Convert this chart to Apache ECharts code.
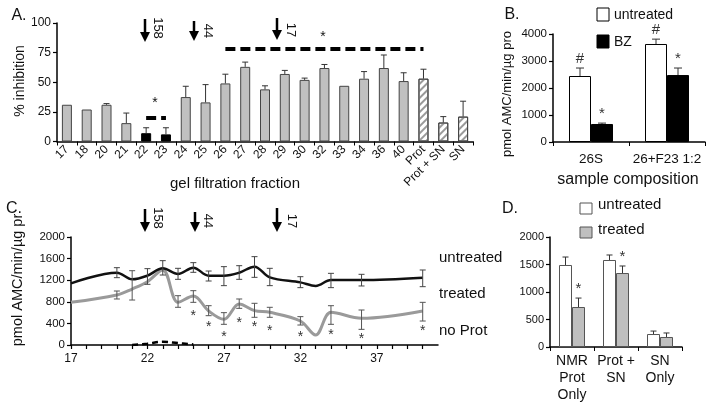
<!DOCTYPE html>
<html><head><meta charset="utf-8">
<script src="https://cdn.jsdelivr.net/npm/echarts@6/dist/echarts.min.js"></script>
<style>html,body{margin:0;padding:0;background:#fff}#c{width:711px;height:405px}</style>
</head><body><div id="c"></div>
<script>
// ---------- Panel A data ----------
const catsA = ['17','18','20','21','22','23','24','25','26','27','28','29','30','32','33','34','36','40','Prot','Prot + SN','SN'];
const valsA = [31,27,31,15.5,7,6,37.5,33,49,63,44,57,52,62,47,53,62,51,53,16,21];
const errTopA = [null,null,32,24,11.6,11.6,46.6,48,56.8,67,47,60,53.5,65,null,59,73,58,61,21,34];
const blackCatsA = ['22','23'];
const hatchCatsA = ['Prot','Prot + SN','SN'];
const ticksA = [0,25,50,75,100];
const sigShortA = {from:'22', to:'23', y:20};
const sigLongA = {from:'26', to:'Prot', y:78};

// ---------- Panel B data ----------
const catsB = ['26S','26+F23 1:2'];
const untreatedB = [2444,3630];
const untreatedErrB = [2740,3810];
const bzB = [667,2480];
const bzErrB = [700,2740];
const ticksB = [0,1000,2000,3000,4000];

// ---------- Panel C data ----------
const fracC = [17,20,21,22,23,24,25,26,27,28,29,30,32,33,34,36,40];
const untreatedC = [1142,1339,1216,1284,1420,1315,1432,1284,1284,1339,1451,1253,1160,1093,1204,1204,1247];
const untreatedLoC = [null,1247,null,1124,1296,1216,1346,1185,1099,1216,1253,1099,1062,null,1062,1093,1080];
const untreatedHiC = [null,1432,null,1414,1562,1420,1525,1370,1451,1469,1636,1420,1265,null,1327,1309,1389];
const treatedC = [790,926,1037,1173,1390,790,907,630,475,759,636,605,444,185,605,494,630];
const treatedLoC = [null,852,833,null,null,698,790,543,383,679,513,513,370,null,383,290,444];
const treatedHiC = [null,1000,1376,null,null,913,1006,728,599,852,772,698,525,null,728,648,790];
const noProtC = [null,null,0,25,60,35,10,null,null,null,null,null,null,null,null,null,null];
const starFracC = [25,26,27,28,29,30,32,34,36,40];
const starValC = [598,389,198,463,383,320,198,246,167,309];
const ticksCy = [0,400,800,1200,1600,2000];
const labelsCx = [17,22,27,32,37];

// ---------- Panel D data ----------
const catsD = ['NMR\nProt\nOnly','Prot +\nSN','SN\nOnly'];
const untreatedD = [1491,1582,236];
const untreatedErrD = [1636,1673,290];
const treatedD = [727,1345,182];
const treatedErrD = [890,1473,255];
const starD = ['*','*',''];
const ticksD = [0,500,1000,1500,2000];

// ---------- helpers ----------
const FF = '"Liberation Sans", Arial, sans-serif';
const TXT = '#111';
const axisLine = {show:true, lineStyle:{color:'#000', width:1.5}};
const tickOut = {show:true, length:4, inside:false, lineStyle:{color:'#000', width:1.2}};
const plain = v => String(v);

function barErr(gi, data, offset, capW, marks, markSize){
  return {
    type:'custom', xAxisIndex:gi, yAxisIndex:gi, z:5,
    data: data,
    renderItem: function(params, api){
      const top = api.value(2);
      const base = api.coord([api.value(0), api.value(1)]);
      const children = [];
      let ty = base[1];
      if (!isNaN(top)) {
        const t = api.coord([api.value(0), top]);
        const x = base[0] + offset;
        ty = t[1];
        children.push({type:'line', shape:{x1:x, y1:base[1], x2:x, y2:t[1]}, style:{stroke:'#333', lineWidth:1}});
        children.push({type:'line', shape:{x1:x-capW, y1:t[1], x2:x+capW, y2:t[1]}, style:{stroke:'#333', lineWidth:1}});
      }
      const m = marks ? marks[params.dataIndex] : '';
      if (m) {
        children.push({type:'text', x: base[0]+offset, y: ty-2,
          style:{text:m, font: markSize+'px '+FF, fill:'#333', align:'center', verticalAlign:'bottom'}});
      }
      return {type:'group', children};
    }
  };
}
function rangeErr(gi, xs, lo, hi, color){
  const data = [];
  xs.forEach((x,i)=>{ if (lo[i]!=null) data.push([x, lo[i], hi[i]]); });
  return {
    type:'custom', xAxisIndex:gi, yAxisIndex:gi, z:6, data,
    renderItem: function(params, api){
      const a = api.coord([api.value(0), api.value(1)]);
      const b = api.coord([api.value(0), api.value(2)]);
      const s = {stroke:color, lineWidth:1};
      return {type:'group', children:[
        {type:'line', shape:{x1:a[0], y1:a[1], x2:b[0], y2:b[1]}, style:s},
        {type:'line', shape:{x1:a[0]-3, y1:a[1], x2:a[0]+3, y2:a[1]}, style:s},
        {type:'line', shape:{x1:b[0]-3, y1:b[1], x2:b[0]+3, y2:b[1]}, style:s}
      ]};
    }
  };
}
function arrow(x, y1, y2){
  return {type:'group', children:[
    {type:'line', shape:{x1:x, y1:y1, x2:x, y2:y2-6}, style:{stroke:'#000', lineWidth:2.5}},
    {type:'polygon', shape:{points:[[x-5,y2-10],[x+5,y2-10],[x,y2]]}, style:{fill:'#000'}}
  ]};
}
function rtext(x, y, t, size, rot){
  return {type:'text', x, y, rotation: rot||0,
    style:{text:t, font: size+'px '+FF, fill:TXT, align:'center', verticalAlign:'middle'}};
}

const itemA = catsA.map((c,i)=>{
  let st = {color:'#c0c0c0', borderColor:'#444', borderWidth:1};
  if (blackCatsA.includes(c)) st = {color:'#000', borderColor:'#000', borderWidth:1};
  if (hatchCatsA.includes(c)) st = {color:'#fff', borderColor:'#444', borderWidth:1,
     decal:{symbol:'rect', symbolSize:1, color:'#9a9a9a', dashArrayX:[1,0], dashArrayY:[2,3], rotation:-Math.PI/4}};
  return {value: valsA[i], itemStyle: st};
});

const option = {
  animation:false,
  backgroundColor:'#fff',
  textStyle:{fontFamily:FF},
  grid:[
    {left:57, top:23, width:416, height:118.5},
    {left:553, top:34, width:152, height:108},
    {left:71, top:237, width:367, height:108},
    {left:550, top:237, width:132, height:110}
  ],
  xAxis:[
    {gridIndex:0, type:'category', data:catsA, axisLine, axisTick:{show:true, length:4, lineStyle:{color:'#000'}},
     axisLabel:{rotate:45, fontSize:12, color:TXT, margin:6, interval:0, fontFamily:FF}},
    {gridIndex:1, type:'category', data:catsB, axisLine, axisTick:{show:true, length:4, lineStyle:{color:'#000'}},
     axisLabel:{fontSize:13.5, color:TXT, margin:10, interval:0, hideOverlap:false, fontFamily:FF}},
    {gridIndex:2, type:'value', min:17, max:41, interval:1, axisLine, axisTick:{show:true, length:4, lineStyle:{color:'#000', width:1.2}},
     splitLine:{show:false},
     axisLabel:{fontSize:12, color:TXT, margin:8, fontFamily:FF, showMaxLabel:false,
       formatter: v => labelsCx.includes(v) ? String(v) : ''}},
    {gridIndex:3, type:'category', data:catsD, axisLine, axisTick:{show:true, length:4, lineStyle:{color:'#000'}},
     axisLabel:{fontSize:14, color:TXT, margin:6, lineHeight:17, interval:0, fontFamily:FF}}
  ],
  yAxis:[
    {gridIndex:0, type:'value', min:0, max:100, interval:25, axisLine, axisTick:tickOut, splitLine:{show:false},
     axisLabel:{fontSize:12, color:TXT, margin:6, fontFamily:FF, formatter:plain}},
    {gridIndex:1, type:'value', min:0, max:4000, interval:1000, axisLine, axisTick:tickOut, splitLine:{show:false},
     axisLabel:{fontSize:11.5, color:TXT, margin:6, fontFamily:FF, formatter:plain}},
    {gridIndex:2, type:'value', min:0, max:2000, interval:400, axisLine, axisTick:tickOut, splitLine:{show:false},
     axisLabel:{fontSize:11.5, color:TXT, margin:6, fontFamily:FF, formatter:plain}},
    {gridIndex:3, type:'value', min:0, max:2000, interval:500, axisLine, axisTick:tickOut, splitLine:{show:false},
     axisLabel:{fontSize:11, color:TXT, margin:6, fontFamily:FF, formatter:plain}}
  ],
  series:[
    // Panel A
    {type:'bar', xAxisIndex:0, yAxisIndex:0, data:itemA, barWidth:10,
     markLine:{silent:true, symbol:'none', label:{show:false},
       lineStyle:{color:'#000', width:4, type:[10,5]},
       data:[
         [{coord:[sigShortA.from, sigShortA.y]},{coord:[sigShortA.to, sigShortA.y]}],
         [{coord:[sigLongA.from, sigLongA.y]},{coord:[sigLongA.to, sigLongA.y]}]
       ]}},
    barErr(0, catsA.map((c,i)=>[i, valsA[i], errTopA[i]==null?NaN:errTopA[i]]), 0, 3, null, 14),
    // Panel B
    {type:'bar', name:'untreated', xAxisIndex:1, yAxisIndex:1, data:untreatedB, barWidth:22, barGap:'0%',
     itemStyle:{color:'#fff', borderColor:'#000', borderWidth:1}},
    {type:'bar', name:'BZ', xAxisIndex:1, yAxisIndex:1, data:bzB, barWidth:22, barGap:'0%',
     itemStyle:{color:'#000', borderColor:'#000', borderWidth:1}},
    barErr(1, catsB.map((c,i)=>[i, untreatedB[i], untreatedErrB[i]]), -11, 4, ['#','#'], 15),
    barErr(1, catsB.map((c,i)=>[i, bzB[i], bzErrB[i]]), 11, 4, ['*','*'], 15),
    // Panel C
    {type:'line', xAxisIndex:2, yAxisIndex:2, data: fracC.map((x,i)=>[x, untreatedC[i]]), smooth:0.35,
     showSymbol:false, symbol:'none', lineStyle:{color:'#111', width:2.5}, z:4},
    {type:'line', xAxisIndex:2, yAxisIndex:2, data: fracC.map((x,i)=>[x, treatedC[i]]), smooth:0.35,
     showSymbol:false, symbol:'none', lineStyle:{color:'#9a9a9a', width:3}, z:3},
    {type:'line', xAxisIndex:2, yAxisIndex:2, data: fracC.map((x,i)=>[x, noProtC[i]]), smooth:0.4,
     showSymbol:false, symbol:'none', connectNulls:false, lineStyle:{color:'#000', width:2.5, type:[6,4]}, z:2},
    rangeErr(2, fracC, untreatedLoC, untreatedHiC, '#444'),
    rangeErr(2, fracC, treatedLoC, treatedHiC, '#555'),
    {type:'custom', xAxisIndex:2, yAxisIndex:2, z:7, data: starFracC.map((x,i)=>[x, starValC[i]]),
     renderItem: function(params, api){
       const p = api.coord([api.value(0), api.value(1)]);
       return {type:'text', x:p[0], y:p[1]+3, style:{text:'*', font:'14px '+FF, fill:'#333', align:'center', verticalAlign:'middle'}};
     }},
    // Panel D
    {type:'bar', xAxisIndex:3, yAxisIndex:3, data:untreatedD, barWidth:13, barGap:'0%',
     itemStyle:{color:'#fff', borderColor:'#555', borderWidth:1}},
    {type:'bar', xAxisIndex:3, yAxisIndex:3, data:treatedD, barWidth:13, barGap:'0%',
     itemStyle:{color:'#bfbfbf', borderColor:'#555', borderWidth:1}},
    barErr(3, catsD.map((c,i)=>[i, untreatedD[i], untreatedErrD[i]]), -6.5, 3, null, 14),
    barErr(3, catsD.map((c,i)=>[i, treatedD[i], treatedErrD[i]]), 6.5, 3, starD, 15)
  ],
  graphic:[
    // panel letters
    rtext(19, 16, 'A.', 16), rtext(512, 15, 'B.', 16), rtext(14, 209, 'C.', 16), rtext(510, 209, 'D.', 16),
    // axis titles
    rtext(20, 81, '% inhibition', 14, Math.PI/2),
    rtext(235, 184, 'gel filtration fraction', 15),
    rtext(507, 94, 'pmol AMC/min/µg pro', 13, Math.PI/2),
    rtext(628, 180, 'sample composition', 16),
    rtext(18, 280, 'pmol AMC/min/µg pr', 14.5, Math.PI/2),
    // panel A annotations
    arrow(145, 19, 42), rtext(158, 28, '158', 13, -Math.PI/2),
    arrow(194, 21, 41), rtext(208, 31, '44', 13, -Math.PI/2),
    arrow(277, 18, 40), rtext(291, 30, '17', 13, -Math.PI/2),
    rtext(155, 103, '*', 14), rtext(323, 37, '*', 14),
    // panel C annotations
    arrow(145, 209, 232), rtext(158, 218, '158', 13, -Math.PI/2),
    arrow(195, 212, 232), rtext(208, 221, '44', 13, -Math.PI/2),
    arrow(277, 208, 232), rtext(292, 221, '17', 13, -Math.PI/2),
    {type:'text', x:439, y:258, style:{text:'untreated', font:'15px '+FF, fill:TXT, verticalAlign:'middle'}},
    {type:'text', x:439, y:294, style:{text:'treated', font:'15px '+FF, fill:TXT, verticalAlign:'middle'}},
    {type:'text', x:439, y:331, style:{text:'no Prot', font:'15px '+FF, fill:TXT, verticalAlign:'middle'}},
    // panel B legend
    {type:'rect', shape:{x:597, y:8, width:12, height:13}, style:{fill:'#fff', stroke:'#000', lineWidth:1}},
    {type:'text', x:614, y:15, style:{text:'untreated', font:'14px '+FF, fill:TXT, verticalAlign:'middle'}},
    {type:'rect', shape:{x:597, y:35, width:12, height:13}, style:{fill:'#000', stroke:'#000', lineWidth:1}},
    {type:'text', x:614, y:42, style:{text:'BZ', font:'14px '+FF, fill:TXT, verticalAlign:'middle'}},
    // panel D legend
    {type:'rect', shape:{x:580, y:203, width:12, height:11}, style:{fill:'#fff', stroke:'#555', lineWidth:1}},
    {type:'text', x:598, y:205, style:{text:'untreated', font:'15px '+FF, fill:TXT, verticalAlign:'middle'}},
    {type:'rect', shape:{x:580, y:227, width:12, height:11}, style:{fill:'#bfbfbf', stroke:'#555', lineWidth:1}},
    {type:'text', x:598, y:230, style:{text:'treated', font:'15px '+FF, fill:TXT, verticalAlign:'middle'}}
  ]
};
const chart = echarts.init(document.getElementById('c'));
chart.setOption(option);
</script>
</body></html>
